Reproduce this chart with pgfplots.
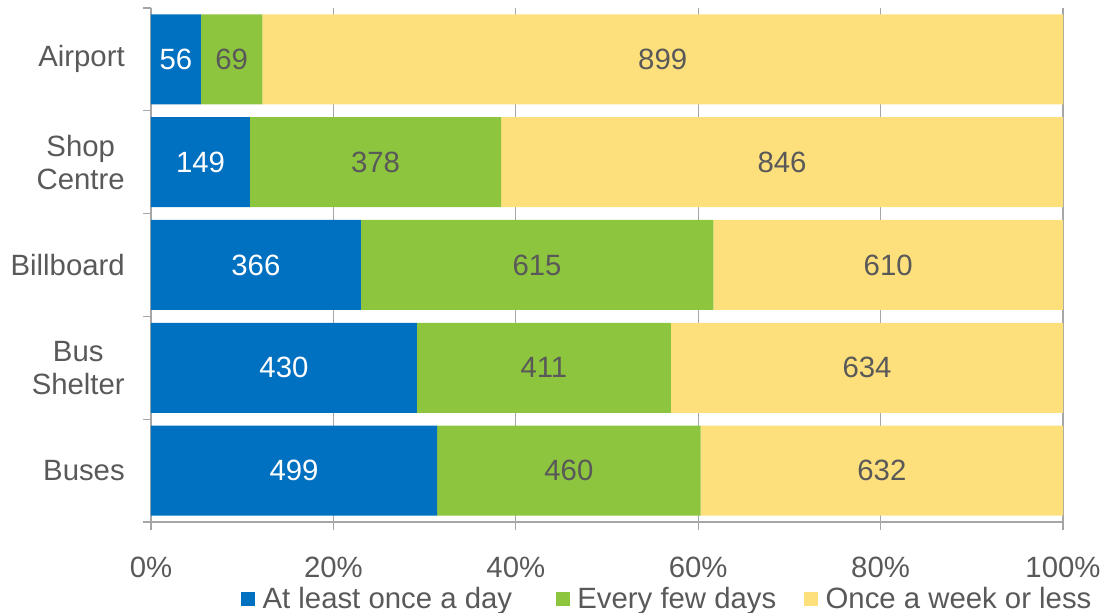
\documentclass[border=0pt]{standalone}
\usepackage{pgfplots}
\usepackage{pgfplotstable}
\pgfplotsset{compat=1.18}
\usepackage{fontspec}
\setmainfont{Liberation Sans}

\definecolor{cblue}{HTML}{0070C0}
\definecolor{cgreen}{HTML}{8DC53E}
\definecolor{cyellow}{HTML}{FDDF7B}
\definecolor{txtgray}{HTML}{595959}
\definecolor{axgray}{HTML}{A6A6A6}

% counts per location: a = at least once a day, b = every few days, c = once a week or less
\pgfplotstableread{
y a b c
0 499 460 632
1 430 411 634
2 366 615 610
3 149 378 846
4 56 69 899
}\data
\pgfplotstablecreatecol[create col/expr={100*\thisrow{a}/(\thisrow{a}+\thisrow{b}+\thisrow{c})}]{pa}\data
\pgfplotstablecreatecol[create col/expr={100*\thisrow{b}/(\thisrow{a}+\thisrow{b}+\thisrow{c})}]{pb}\data
\pgfplotstablecreatecol[create col/expr={100*\thisrow{c}/(\thisrow{a}+\thisrow{b}+\thisrow{c})}]{pc}\data

\begin{document}
\begin{tikzpicture}
\begin{axis}[
    at={(0pt,0pt)}, anchor=south west,
    scale only axis,
    width=684pt, height=385.5pt,
    xbar stacked,
    bar width=67.5pt,
    xmin=0, xmax=100,
    ymin=-0.5, ymax=4.5,
    axis x line*=bottom, axis y line*=left,
    axis line style={axgray, line width=1pt},
    xtick={0,20,40,60,80,100},
    xticklabel={\pgfmathprintnumber{\tick}\%},
    xmajorgrids,
    major grid style={axgray, line width=0.9pt},
    tick align=outside,
    major tick length=6pt, minor tick length=6pt,
    tick style={axgray, line width=1pt},
    ytick={0,1,2,3,4},
    yticklabels={Buses, Bus\\Shelter, Billboard, Shop\\Centre, Airport},
    minor ytick={-0.5,0.5,1.5,2.5,3.5,4.5},
    major y tick style={draw=none},
    /pgf/number format/assume math mode=true,
    font=\fontsize{22}{24.75}\selectfont,
    xticklabel style={text=txtgray, anchor=base, inner sep=0pt, yshift=-35.5pt},
    yticklabel style={text=txtgray, anchor=east, align=center, inner sep=0pt, xshift=-13.5pt},
    point meta=explicit,
    nodes near coords,
    every node near coord/.append style={text=txtgray, font=\fontsize{22}{24.75}\selectfont},
    legend columns=3,
    legend style={draw=none, fill=none, at={(0.0943,-0.15)}, anchor=west,
        text=txtgray, font=\fontsize{22}{24.75}\selectfont,
        /tikz/column 2/.style={column sep=31pt},
        /tikz/column 4/.style={column sep=19pt}},
    legend image code/.code={\fill[#1] (0pt,-5.25pt) rectangle (10.5pt,5.25pt);
        \path (14pt,0pt);},
    clip=false,
]
\addplot[fill=cblue, draw=none, every node near coord/.append style={text=white}]
    table[x=pa, y=y, meta=a] {\data};
\addlegendentry{At least once a day}
\addplot[fill=cgreen, draw=none] table[x=pb, y=y, meta=b] {\data};
\addlegendentry{Every few days}
\addplot[fill=cyellow, draw=none] table[x=pc, y=y, meta=c] {\data};
\addlegendentry{Once a week or less}
\end{axis}
\pgfresetboundingbox
\path[use as bounding box] (-113.25pt,-68.25pt) rectangle (720pt,391.5pt);
\end{tikzpicture}
\end{document}
